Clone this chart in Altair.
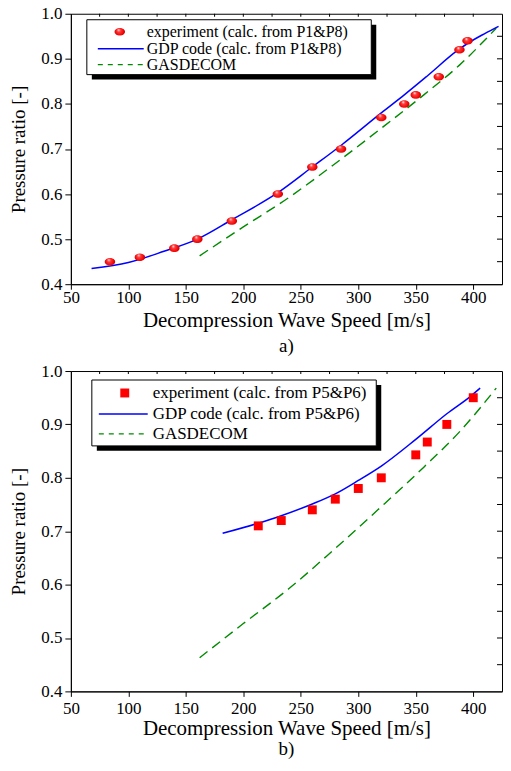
import altair as alt
import pandas as pd

FONT = "Liberation Serif"
W = 432
H_A = 271
H_B = 321

# axis ticks
x_ticks = [50, 75, 100, 125, 150, 175, 200, 225, 250, 275, 300, 325, 350, 375, 400, 425]
y_ticks = [0.40, 0.45, 0.50, 0.55, 0.60, 0.65, 0.70, 0.75, 0.80, 0.85, 0.90, 0.95, 1.00]
x_domain = [50, 425]
y_domain = [0.4, 1.0]

# panel a)
a_exp_speed = [84, 110, 140, 160, 190, 230, 260, 285, 320, 340, 350, 370, 388, 395]
a_exp_ratio = [0.45, 0.46, 0.48, 0.50, 0.54, 0.60, 0.66, 0.70, 0.77, 0.80, 0.82, 0.86, 0.92, 0.94]
a_gdp_speed = [68, 100, 131, 160, 190, 230, 260, 286, 320, 340, 360, 386, 395, 410, 422]
a_gdp_ratio = [0.435, 0.448, 0.473, 0.500, 0.543, 0.603, 0.660, 0.710, 0.780, 0.820, 0.862,
               0.918, 0.934, 0.956, 0.972]
# GASDECOM (same in both panels)
gas_speed = [162, 200, 240, 278, 317, 357, 388, 420]
gas_ratio = [0.463, 0.527, 0.593, 0.664, 0.740, 0.820, 0.886, 0.968]

# panel b)
b_exp_speed = [213, 233, 260, 280, 300, 320, 350, 360, 377, 400]
b_exp_ratio = [0.71, 0.72, 0.74, 0.76, 0.78, 0.80, 0.843, 0.867, 0.90, 0.95]
b_gdp_speed = [182, 213, 233, 260, 280, 300, 320, 350, 377, 399, 406]
b_gdp_ratio = [0.696, 0.715, 0.729, 0.751, 0.770, 0.795, 0.822, 0.872, 0.920, 0.955, 0.968]

legend_a = ["experiment (calc. from P1&P8)", "GDP code  (calc. from P1&P8)", "GASDECOM"]
legend_b = ["experiment (calc. from P5&P6)", "GDP code  (calc. from P5&P6)", "GASDECOM"]

RED_BALL = {
    "gradient": "radial",
    "x1": 0.38, "y1": 0.32, "r1": 0.0,
    "x2": 0.5, "y2": 0.5, "r2": 0.6,
    "stops": [
        {"offset": 0.0, "color": "#ffffff"},
        {"offset": 0.25, "color": "#ff4040"},
        {"offset": 0.7, "color": "#f00000"},
        {"offset": 1.0, "color": "#a00000"},
    ],
}
ELLIPSE = "M -1 0 A 1 0.72 0 1 0 1 0 A 1 0.72 0 1 0 -1 0 Z"

MAJOR_X = "datum.value % 50 === 0"
MAJOR_Y = "round(datum.value * 100) % 10 === 0"


def x_axis(fs):
    return alt.Axis(
        values=x_ticks[:-1], title="Decompression Wave Speed [m/s]", format="d",
        labelExpr=MAJOR_X + " ? datum.label : ''",
        tickSize={"condition": {"test": MAJOR_X, "value": 5}, "value": 3},
        labelOverlap=False, labelFlush=False, grid=False,
        labelFont=FONT, labelFontSize=17, labelColor="black", labelPadding=fs["lpad"],
        titleFont=FONT, titleFontSize=21, titleFontWeight="normal", titleColor="black",
        titlePadding=fs["tpad"], domainColor="black", tickColor="black",
    )


def y_axis():
    return alt.Axis(
        values=y_ticks, title="Pressure ratio [-]", format=".1f",
        labelExpr=MAJOR_Y + " ? datum.label : ''",
        tickSize={"condition": {"test": MAJOR_Y, "value": 6}, "value": 3},
        labelOverlap=False, labelFlush=False, grid=False,
        labelFont=FONT, labelFontSize=17, labelColor="black", labelPadding=3,
        titleFont=FONT, titleFontSize=19, titleFontWeight="normal", titleColor="black",
        titlePadding=12, minExtent=30, maxExtent=30,
        domainColor="black", tickColor="black",
    )


def panel(exp_x, exp_y, gdp_x, gdp_y, labels, marker, H, geo, caption, fs):
    xs = alt.Scale(domain=x_domain, nice=False, zero=False)
    ys = alt.Scale(domain=y_domain, nice=False, zero=False)
    one = alt.Data(values=[{"k": 1}])

    gas = alt.Chart(pd.DataFrame({"x": gas_speed, "y": gas_ratio})).mark_line(
        color="#008a00", strokeWidth=1.4, strokeDash=[10, 6], interpolate="monotone"
    ).encode(
        x=alt.X("x:Q", scale=xs, axis=x_axis(fs)),
        y=alt.Y("y:Q", scale=ys, axis=y_axis()),
    )
    gdp = alt.Chart(pd.DataFrame({"x": gdp_x, "y": gdp_y})).mark_line(
        color="#0000ff", strokeWidth=1.5, interpolate="monotone"
    ).encode(x=alt.X("x:Q", scale=xs), y=alt.Y("y:Q", scale=ys))

    if marker == "ball":
        pmark = dict(shape=ELLIPSE, filled=True, fill=RED_BALL, size=110, strokeWidth=0, opacity=1)
    else:
        pmark = dict(shape="square", filled=True, fill="#ff0000", size=80, strokeWidth=0, opacity=1)
    pts = alt.Chart(pd.DataFrame({"x": exp_x, "y": exp_y})).mark_point(**pmark).encode(
        x=alt.X("x:Q", scale=xs), y=alt.Y("y:Q", scale=ys)
    )

    top_ticks = alt.Chart(pd.DataFrame({"x": x_ticks[1:-1]})).mark_rule(color="black").encode(
        x=alt.X("x:Q", scale=xs), y=alt.value(0), y2=alt.value(3)
    )
    right_ticks = alt.Chart(pd.DataFrame({"y": y_ticks[1:-1]})).mark_rule(color="black").encode(
        y=alt.Y("y:Q", scale=ys), x=alt.value(W - 5), x2=alt.value(W)
    )

    bx0, bx1, by0, by1 = geo["box"]
    sh = 5
    shadow = alt.Chart(one).mark_rect(color="black").encode(
        x=alt.value(bx0 + sh), x2=alt.value(bx1 + sh), y=alt.value(by0 + sh), y2=alt.value(by1 + sh)
    )
    box = alt.Chart(one).mark_rect(fill="white", stroke="black", strokeWidth=1).encode(
        x=alt.value(bx0), x2=alt.value(bx1), y=alt.value(by0), y2=alt.value(by1)
    )
    sx, rows, lx0, lx1, tx = geo["sym_x"], geo["rows"], geo["line"][0], geo["line"][1], geo["text_x"]
    lsym = alt.Chart(one).mark_point(**pmark).encode(x=alt.value(sx), y=alt.value(rows[0]))
    lgdp = alt.Chart(one).mark_rule(color="#0000ff", strokeWidth=1.5).encode(
        x=alt.value(lx0), x2=alt.value(lx1), y=alt.value(rows[1])
    )
    lgas = alt.Chart(one).mark_rule(color="#008a00", strokeWidth=1.4, strokeDash=[5, 5]).encode(
        x=alt.value(lx0), x2=alt.value(lx1), y=alt.value(rows[2])
    )
    texts = [
        alt.Chart(one).mark_text(align="left", baseline="middle", font=FONT,
                                 fontSize=fs["legend"], color="black").encode(
            x=alt.value(tx), y=alt.value(r), text=alt.value(lab)
        )
        for lab, r in zip(labels, rows)
    ]

    return alt.layer(gas, gdp, pts, top_ticks, right_ticks, shadow, box, lsym, lgdp, lgas, *texts).properties(
        width=W, height=H,
        title=alt.TitleParams(caption, orient="bottom", anchor="middle", font=FONT, fontSize=19,
                              fontWeight="normal", color="black", offset=fs["coff"]),
    )


geo_a = {"box": (16, 301, 6, 61), "sym_x": 49, "rows": [18, 35, 51], "line": (27, 73), "text_x": 76}
geo_b = {"box": (21, 306, 9, 75), "sym_x": 54, "rows": [22, 43, 63], "line": (28, 77), "text_x": 82}
fs_a = {"lpad": 0, "tpad": 4.5, "coff": 6, "legend": 16}
fs_b = {"lpad": 4.5, "tpad": 1, "coff": 1.5, "legend": 17}

chart_a = panel(a_exp_speed, a_exp_ratio, a_gdp_speed, a_gdp_ratio, legend_a, "ball", H_A, geo_a, "a)", fs_a)
chart_b = panel(b_exp_speed, b_exp_ratio, b_gdp_speed, b_gdp_ratio, legend_b, "square", H_B, geo_b, "b)", fs_b)

chart = alt.vconcat(chart_a, chart_b, spacing=5).properties(
    padding={"left": 1, "top": -5, "right": 0, "bottom": 0},
    background="white",
).configure_view(stroke="black", strokeWidth=1)

chart.save("out.html", embed_options={"renderer": "svg", "actions": False})
